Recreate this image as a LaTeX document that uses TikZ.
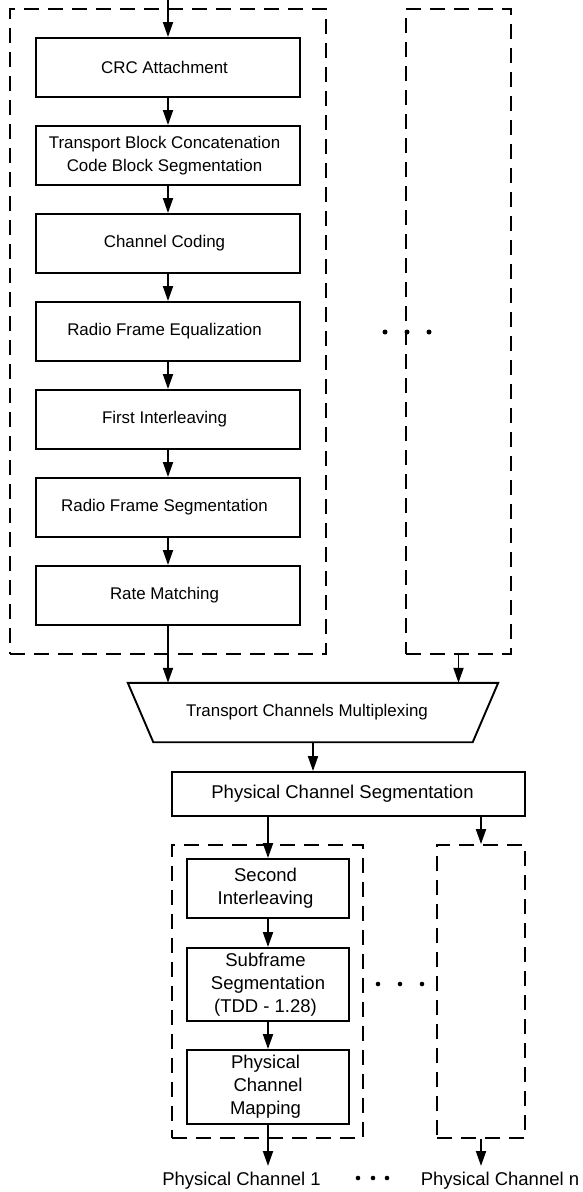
\documentclass[tikz,border=0pt]{standalone}
\usepackage{fontspec}
\setmainfont{Liberation Sans}
\usetikzlibrary{arrows.meta}
\newcommand{\lsh}[1]{#1\hspace*{7pt}}
\newcommand{\ssh}[1]{#1\hspace*{5pt}}
\begin{document}
\begin{tikzpicture}[x=1pt,y=-1pt,
  upper/.style={font=\fontsize{16.9}{23.3}\selectfont},
  lower/.style={font=\fontsize{18.5}{23}\selectfont},
  blk/.style={draw,line width=1.9pt,inner sep=0pt,align=center,minimum width=264pt,minimum height=59pt,upper},
  sblk/.style={draw,line width=1.9pt,inner sep=0pt,align=center,minimum width=162pt,lower},
  dbox/.style={draw,line width=1.8pt,dash pattern=on 15pt off 9pt,inner sep=0pt},
  arr/.style={line width=1.9pt,-{Triangle[length=15pt,width=10pt]}},
  dot/.style={fill=black}
]
\useasboundingbox (0,0) rectangle (582,1192);
% dashed containers
\node[dbox,minimum width=316pt,minimum height=645pt] (lbox) at (168,331.5) {};
\node[dbox,minimum width=105pt,minimum height=645pt] (rbox) at (458.5,331.5) {};
\node[dbox,minimum width=191pt,minimum height=293pt] (lbox2) at (267.5,991.5) {};
\node[dbox,minimum width=88pt,minimum height=293pt] (rbox2) at (481,991.5) {};
% upper chain
\coordinate (in) at (168,0);
\node[blk] (crc) at (168,67.5) {\lsh{CRC Attachment}};
\node[blk] (tb) at (168,155.5) {\lsh{Transport Block Concatenation}\\\lsh{Code Block Segmentation}};
\node[blk] (cc) at (168,243.5) {\lsh{Channel Coding}};
\node[blk] (rfe) at (168,331.5) {\lsh{Radio Frame Equalization}};
\node[blk] (fi) at (168,419.5) {\lsh{First Interleaving}};
\node[blk] (rfs) at (168,507.5) {\lsh{Radio Frame Segmentation}};
\node[blk] (rm) at (168,595.5) {\lsh{Rate Matching}};
\draw[arr] (in) -- (crc.north);
\draw[arr] (crc) -- (tb);
\draw[arr] (tb) -- (cc);
\draw[arr] (cc) -- (rfe);
\draw[arr] (rfe) -- (fi);
\draw[arr] (fi) -- (rfs);
\draw[arr] (rfs) -- (rm);
% multiplexing trapezoid
\node[upper,inner sep=0pt,minimum width=319pt,minimum height=59pt] (tcm) at (313,712.5) {Transport Channels Multiplexing\hspace*{12pt}};
\draw[line width=1.9pt,line join=miter] ([xshift=-25.5pt]tcm.north west) -- ([xshift=25.5pt]tcm.north east) -- (tcm.south east) -- (tcm.south west) -- cycle;
\draw[arr] (rm.south) -- (rm.south |- tcm.north);
\draw[arr] (rbox.south) -- (rbox.south |- tcm.north);
% physical channel segmentation
\node[draw,line width=1.9pt,inner sep=0pt,minimum width=353pt,minimum height=44pt,lower] (pcs) at (348.5,794) {Physical Channel Segmentation\hspace*{12pt}};
\draw[arr] (tcm.south) -- (tcm.south |- pcs.north);
% lower chain
\node[sblk,minimum height=59pt] (si) at (268,888.5) {\ssh{Second}\\\ssh{Interleaving}};
\node[sblk,minimum height=73pt] (sf) at (268,984.5) {\ssh{Subframe}\\\ssh{Segmentation}\\\ssh{(TDD - 1.28)}};
\node[sblk,minimum height=74pt] (pcm) at (268,1087) {\ssh{Physical}\\\ssh{Channel}\\\ssh{Mapping}};
\draw[arr] (pcs.south -| si.north) -- (si.north);
\draw[arr] (pcs.south -| rbox2.north) -- (rbox2.north);
\draw[arr] (si) -- (sf);
\draw[arr] (sf) -- (pcm);
\coordinate (e1) at (268,1166);
\coordinate (e2) at (481,1166);
\draw[arr] (pcm.south) -- (e1);
\draw[arr] (rbox2.south) -- (e2);
\node[lower,anchor=base,inner sep=0pt] (pc1) at (241.5,1185) {Physical Channel 1};
\node[lower,anchor=base,inner sep=0pt] (pcn) at (500,1185) {Physical Channel n};
% ellipses
\fill[dot] (385,332) circle (2.5);
\fill[dot] (407,332) circle (2.5);
\fill[dot] (429,332) circle (2.5);
\fill[dot] (378,984) circle (2.3);
\fill[dot] (400,984) circle (2.3);
\fill[dot] (422,984) circle (2.3);
\fill[dot] (358,1178) circle (2.3);
\fill[dot] (373,1178) circle (2.3);
\fill[dot] (387,1178) circle (2.3);
\end{tikzpicture}
\end{document}
